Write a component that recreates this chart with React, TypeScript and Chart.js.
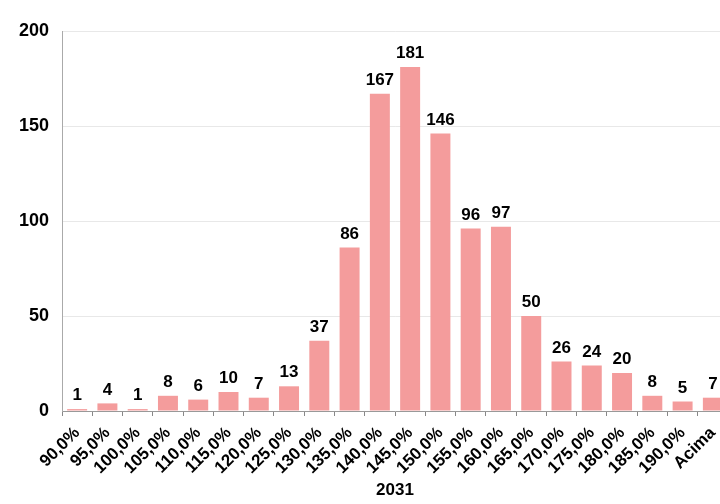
import React, { useEffect, useRef } from "react";
import { Chart, registerables } from "chart.js";

Chart.register(...registerables);

const categories = ["90,0%", "95,0%", "100,0%", "105,0%", "110,0%", "115,0%", "120,0%", "125,0%", "130,0%", "135,0%", "140,0%", "145,0%", "150,0%", "155,0%", "160,0%", "165,0%", "170,0%", "175,0%", "180,0%", "185,0%", "190,0%", "Acima"];
const counts = [1, 4, 1, 8, 6, 10, 7, 13, 37, 86, 167, 181, 146, 96, 97, 50, 26, 24, 20, 8, 5, 7];
const xTitle = "2031";
const yTicks = [0, 50, 100, 150, 200];

const FONT = "Arial, 'Liberation Sans', sans-serif";

const valueLabels = {
  id: "valueLabels",
  afterDatasetsDraw(chart: any) {
    const ctx = chart.ctx;
    const meta = chart.getDatasetMeta(0);
    ctx.save();
    ctx.font = `bold 17px ${FONT}`;
    ctx.fillStyle = "#000";
    ctx.textAlign = "center";
    ctx.textBaseline = "bottom";
    meta.data.forEach((bar: any, i: number) => {
      ctx.fillText(String(counts[i]), bar.x, bar.y - 5);
    });
    ctx.restore();
  },
};

export default function App() {
  const ref = useRef<HTMLCanvasElement>(null);
  useEffect(() => {
    if (!ref.current) return;
    const chart = new Chart(ref.current, {
      type: "bar",
      data: {
        labels: categories,
        datasets: [
          {
            data: counts,
            backgroundColor: "#F49C9C",
            borderWidth: 0,
            barPercentage: 0.66,
            categoryPercentage: 1,
          },
        ],
      },
      options: {
        animation: false,
        responsive: false,
        maintainAspectRatio: false,
        layout: { padding: { top: 31, left: 0, right: 0, bottom: 3 } },
        plugins: { legend: { display: false }, tooltip: { enabled: false } },
        scales: {
          x: {
            grid: { display: true, drawOnChartArea: false, offset: true, tickLength: 5, color: "#888" },
            border: { display: true, color: "#999", width: 1 },
            ticks: {
              maxRotation: 45,
              minRotation: 45,
              autoSkip: false,
              color: "#000",
              padding: 7,
              font: { family: FONT, size: 17, weight: "bold" },
            },
            title: {
              display: true,
              text: xTitle,
              color: "#000",
              padding: { top: 0, bottom: 0 },
              font: { family: FONT, size: 17, weight: "bold" },
            },
            afterFit(s: any) {
              s.height = 90;
              s.paddingLeft = 0;
              s.paddingRight = 0;
            },
          },
          y: {
            min: 0,
            max: 200,
            afterBuildTicks(s: any) {
              s.ticks = yTicks.map((v) => ({ value: v }));
            },
            grid: { display: true, drawTicks: false, color: "rgba(190,190,190,0.35)", lineWidth: 1 },
            border: { display: true, color: "#aaa", width: 1, dash: [] },
            ticks: {
              color: "#000",
              padding: 13,
              font: { family: FONT, size: 18, weight: "bold" },
            },
            afterFit(s: any) {
              s.width = 62;
            },
          },
        },
      },
      plugins: [valueLabels],
    });
    return () => chart.destroy();
  }, []);
  return (
    <div style={{ position: "absolute", left: 0, top: 0, width: 720, height: 504, overflow: "hidden", background: "#fff" }}>
      <canvas ref={ref} width={728} height={504} style={{ display: "block" }} />
    </div>
  );
}
